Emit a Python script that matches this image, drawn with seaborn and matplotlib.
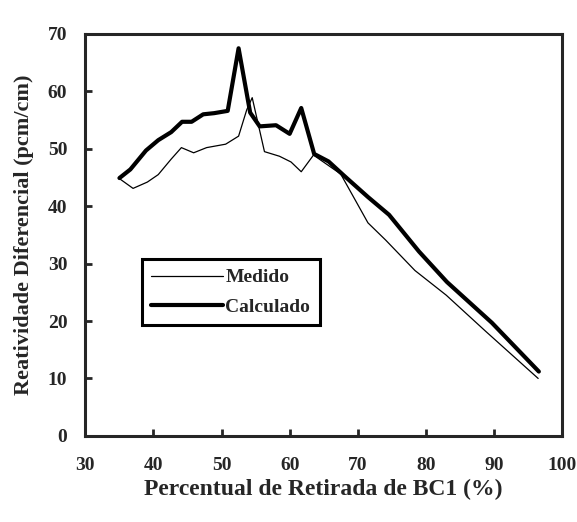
import numpy as np
import pandas as pd
import seaborn as sns
import matplotlib
matplotlib.use("Agg")
import matplotlib.pyplot as plt

# valores
calc_x = [35.0, 36.6, 38.9, 40.7, 42.6, 44.2, 45.6, 47.3, 48.9, 50.9, 52.5, 54.2, 55.6,
          56.8, 58.0, 60.0, 61.7, 63.6, 65.7, 68.0, 71.5, 74.6, 79.0, 83.1, 89.7, 96.6]
calc_y = [44.9, 46.4, 49.7, 51.5, 52.9, 54.7, 54.7, 56.0, 56.2, 56.6, 67.5, 56.3, 53.9,
          54.0, 54.1, 52.6, 57.1, 49.1, 47.8, 45.3, 41.6, 38.5, 32.1, 26.8, 19.7, 11.2]

med_x = [35.0, 37.0, 39.1, 40.7, 42.6, 44.1, 45.9, 47.8, 50.6, 52.5, 53.7, 54.5, 56.3,
         58.5, 60.2, 61.7, 63.5, 67.5, 71.5, 74.1, 78.4, 83.0, 88.8, 96.5]
med_y = [44.8, 43.1, 44.2, 45.5, 48.2, 50.2, 49.3, 50.2, 50.8, 52.2, 56.8, 58.9, 49.5,
         48.7, 47.7, 46.0, 48.9, 45.6, 37.1, 34.1, 28.8, 24.5, 18.2, 10.0]

x_ticks = [30, 40, 50, 60, 70, 80, 90, 100]
y_ticks = [0, 10, 20, 30, 40, 50, 60, 70]

sns.set_style("ticks")
plt.rcParams['font.family'] = ['Liberation Serif', 'DejaVu Serif']
plt.rcParams['font.weight'] = 'bold'

df_med = pd.DataFrame({'x': med_x, 'y': med_y})
df_calc = pd.DataFrame({'x': calc_x, 'y': calc_y})

fig = plt.figure(figsize=(5.77, 5.22), dpi=100)
ax = fig.add_axes([0.148, 0.165, 0.826, 0.770])

sns.lineplot(data=df_med, x='x', y='y', ax=ax, color='black', linewidth=0.9,
             label='Medido', sort=False)
sns.lineplot(data=df_calc, x='x', y='y', ax=ax, color='black', linewidth=3.0,
             label='Calculado', sort=False)

ax.set_xlim(30, 100)
ax.set_ylim(0, 70)
ax.set_xticks(x_ticks)
ax.set_yticks(y_ticks)
ax.tick_params(axis='both', direction='in', length=5, width=2, labelsize=14)
ax.tick_params(axis='x', pad=15)
ax.tick_params(axis='y', pad=13)
for lab in ax.get_xticklabels() + ax.get_yticklabels():
    lab.set_fontweight('bold')
for sp in ax.spines.values():
    sp.set_linewidth(2.2)
    sp.set_visible(True)

ax.set_xlabel('Percentual de Retirada de BC1 (%)', fontsize=17, fontweight='bold', labelpad=4)
ax.set_ylabel('Reatividade Diferencial (pcm/cm)', fontsize=16, fontweight='bold', labelpad=10)

leg = ax.legend(loc='upper left', bbox_to_anchor=(0.118, 0.44), borderaxespad=0,
                fancybox=False, framealpha=1, edgecolor='black', handlelength=3.7,
                handletextpad=0.1, labelspacing=0.6, borderpad=0.5,
                prop={'family': 'Liberation Serif', 'weight': 'bold', 'size': 14})
leg.get_frame().set_linewidth(2.2)

fig.savefig('out.png', dpi=100)
